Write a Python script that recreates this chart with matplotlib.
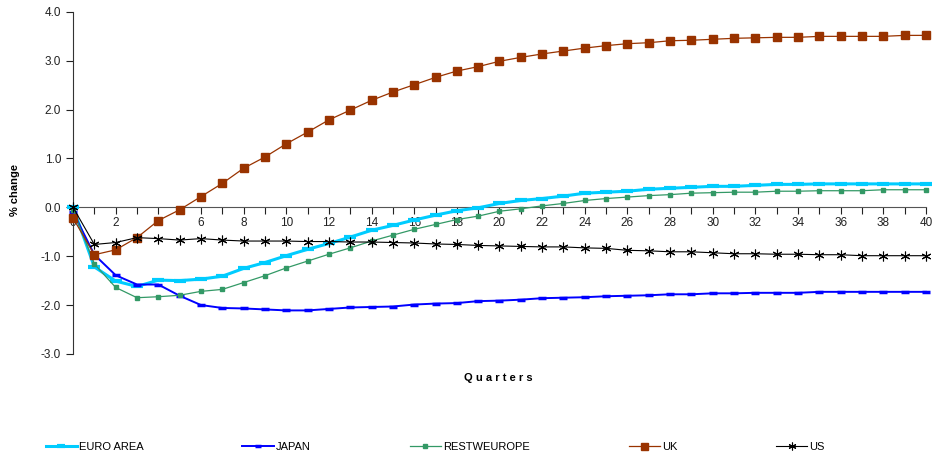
import numpy as np
import matplotlib
matplotlib.use("Agg")
import matplotlib.pyplot as plt

plt.rcParams['font.family'] = ['Liberation Sans', 'DejaVu Sans']
plt.rcParams['axes.unicode_minus'] = False

quarters = list(range(41))

euro_area = [0.0, -1.22, -1.51, -1.62, -1.49, -1.50, -1.47, -1.41, -1.25, -1.13,
             -0.99, -0.86, -0.74, -0.61, -0.47, -0.37, -0.26, -0.16, -0.07, -0.01,
             0.08, 0.14, 0.18, 0.23, 0.29, 0.31, 0.33, 0.37, 0.39, 0.41,
             0.43, 0.43, 0.45, 0.47, 0.47, 0.48, 0.48, 0.48, 0.48, 0.48, 0.48]
japan = [-0.1, -0.97, -1.39, -1.58, -1.58, -1.81, -2.00, -2.06, -2.07, -2.09,
         -2.11, -2.11, -2.08, -2.05, -2.04, -2.03, -1.99, -1.97, -1.96, -1.92,
         -1.91, -1.89, -1.86, -1.85, -1.84, -1.82, -1.81, -1.80, -1.78, -1.78,
         -1.76, -1.76, -1.75, -1.75, -1.75, -1.73, -1.73, -1.73, -1.73, -1.73, -1.73]
rest_w_europe = [-0.05, -1.16, -1.64, -1.85, -1.83, -1.80, -1.72, -1.68, -1.54, -1.40,
                 -1.24, -1.10, -0.96, -0.83, -0.69, -0.57, -0.45, -0.35, -0.25, -0.18,
                 -0.08, -0.03, 0.03, 0.08, 0.14, 0.18, 0.21, 0.24, 0.26, 0.29,
                 0.30, 0.31, 0.31, 0.33, 0.33, 0.34, 0.34, 0.34, 0.36, 0.36, 0.36]
uk = [-0.22, -0.97, -0.87, -0.62, -0.27, -0.05, 0.22, 0.49, 0.80, 1.03,
      1.30, 1.54, 1.79, 1.99, 2.19, 2.36, 2.51, 2.66, 2.79, 2.88,
      2.99, 3.07, 3.14, 3.20, 3.26, 3.31, 3.35, 3.37, 3.41, 3.42,
      3.44, 3.46, 3.47, 3.48, 3.48, 3.50, 3.50, 3.50, 3.50, 3.52, 3.52]
us = [0.0, -0.76, -0.72, -0.62, -0.64, -0.67, -0.64, -0.67, -0.69, -0.69,
      -0.69, -0.70, -0.70, -0.71, -0.71, -0.72, -0.73, -0.75, -0.76, -0.78,
      -0.79, -0.80, -0.81, -0.81, -0.83, -0.84, -0.88, -0.89, -0.91, -0.91,
      -0.93, -0.95, -0.95, -0.96, -0.96, -0.97, -0.97, -0.99, -0.99, -0.99, -0.99]

fig = plt.figure(figsize=(9.4, 4.59), dpi=100)
ax = fig.add_axes([0.0777, 0.229, 0.9073, 0.745])

ax.plot(quarters, euro_area, color='#00CCFF', lw=2.2, marker='_', ms=8, mew=3,
        label='EURO AREA', clip_on=False, zorder=3)
ax.plot(quarters, japan, color='#0000FF', lw=1.4, marker='_', ms=6, mew=2.5,
        label='JAPAN', clip_on=False, zorder=3)
ax.plot(quarters, rest_w_europe, color='#339966', lw=0.9, marker='s', ms=3,
        label='RESTWEUROPE', clip_on=False, zorder=3)
ax.plot(quarters, uk, color='#993300', lw=0.9, marker='s', ms=6.3,
        label='UK', clip_on=False, zorder=4)
ax.plot(quarters, us, color='black', lw=0.8, marker=(6, 2, 0), ms=7, mew=0.8,
        label='US', clip_on=False, zorder=4)

ax.set_xlim(0, 40)
ax.set_ylim(-3, 4)
ax.spines['top'].set_visible(False)
ax.spines['right'].set_visible(False)
ax.spines['bottom'].set_position(('data', 0))
ax.spines['bottom'].set_color('#555555')
ax.spines['left'].set_color('#333333')

ax.set_xticks(quarters)
ax.set_xticklabels([str(q) if q % 2 == 0 else '' for q in quarters])
ax.set_yticks(np.arange(-3, 5, 1))
ax.set_yticklabels([f'{v:.1f}' for v in np.arange(-3, 5, 1)])
ax.tick_params(axis='both', direction='out', length=5, width=0.8, labelsize=8.5,
               colors='#222222')
ax.tick_params(axis='x', pad=2)

fig.text(0.016, 0.585, '% change', rotation=90, ha='center', va='center',
         fontsize=8, fontweight='bold')
fig.text(0.53, 0.176, 'Q u a r t e r s', ha='center', va='center',
         fontsize=8, fontweight='bold')

fig.legend(loc='center', bbox_to_anchor=(0.463, 0.026), ncol=5, frameon=False,
           fontsize=8, handlelength=2.8, handletextpad=0.2, columnspacing=8.9,
           markerscale=0.8)

fig.savefig('out.png', dpi=100)
